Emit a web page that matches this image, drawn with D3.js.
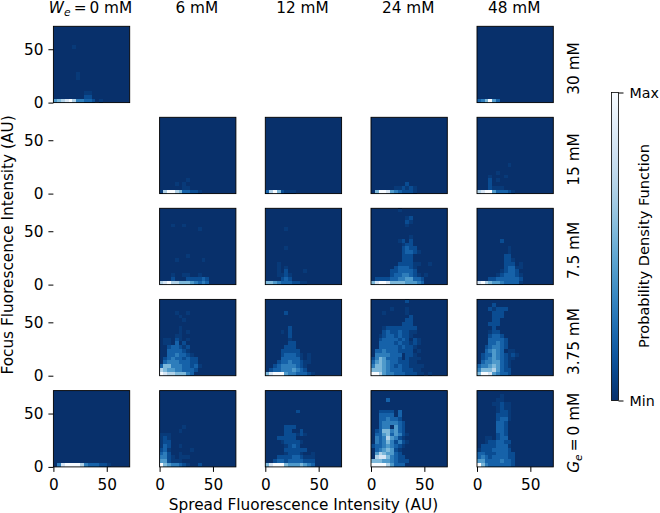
<!DOCTYPE html>
<html><head><meta charset="utf-8">
<script src="https://cdn.jsdelivr.net/npm/d3@7"></script>
<style>html,body{margin:0;padding:0;background:#fff}svg{display:block}text{font-family:"DejaVu Sans";fill:#000}</style>
</head><body><svg id="c" width="660" height="513"></svg>
<script>
// Column / row headings
const colLabels = [["We","0 mM"],"6 mM","12 mM","24 mM","48 mM"];
const rowLabels = ["30 mM","15 mM","7.5 mM","3.75 mM",["Ge","0 mM"]];
const tickValues = [0,50];
const cbarTicks = ["Min","Max"];
// Cell levels 0..9, listed from the y=0 row upward, each char is one x bin
const g30_we0 = ["5678974433201","0000000022","0000000011","","","","0000001","0000001","","","","","","","000001"];
const g30_we48 = ["346953"];
const g15_we6 = ["17997633221","00000011","0000101","00000001"];
const g15_we12 = ["37962111"];
const g15_we24 = ["069985432221","000000112121","0000000002"];
const g15_we48 = ["7899533321","0002111","0002","000201","00010001","000001","","000000001"];
const g75_we6 = ["7897766654343","0002000222232","00010011001","","","","000010000001","00000001","","","","","","","00000000001","0001001"];
const g75_we12 = ["66543332211","0000232","0001121","00010200001","000101","0001","","","","000001","","","","","000001"];
const g75_we24 = ["68998666655543","02222334455332","000002334432101","000002233332","000000233321","0000000222211001","00000000222","00000000222","0000000023321","000000002322","00000000122","00000001202","00000000001","","","0000000001","00000000021","00000000012","","00000001"];
const g75_we48 = ["897655433331","000223333332","000001233321","00000012332","000000023311","000000022201","0000000221","000000022","000000001","000000001","","0000002"];
const g375_we6 = ["987766643","7655443332","36644433231","0344433322","0234332322","003343321","00333321","00233212","0110302","01102101","000011","00000101","000001","","0000001","000001","00001001"];
const g375_we12 = ["6899954433321","02334445432","00234444321","000233433211","000033333101","000023332101","000022222","00000222","00000022","0000001","0000002","0000102","0000002","","","","000002"];
const g375_we24 = ["9975443332221101","6665433322211","46654323221111","356543322211","2465333202111","044443330221","0334333222201","003333323221","0033332322121","0023333232021","00123323221","000232232211","000122222222","00000000222","00000000022","00000000002","0001000001","0000010001","","0000000002"];
const g375_we48 = ["699854332","466675322","344565321","034455321","0234543211","02335432121","0034543011","00234432","00033432","00033332","0002332","000122","00002","000222","000022","0000222","0000222","00021222","00002"];
const g0_we0 = ["048999974333221"];
const g0_we6 = ["96544321002","552111","44210111","342001","231000001","132001","122","121","111","000001","0000001"];
const g0_we12 = ["6899965556543","0023323333222","0002222332111","0000012221001","00000222222","000001232","0000122221","00022222","00000222121","0000022002","00000222","","","","000000002"];
const g0_we24 = ["999975333","6665543222","078864322","05765532","03456521","233454321","0434642421","043475421","0335635421","023664532","003440532","003444432","00334332","00333303","00222203","","","00003"];
const g0_we48 = ["9643333332","5533334332","3432333322","3322233322","122233332","022223331","001223322","00110233","00000232","00000332","00000332","00000332","000002331","000002221","000001221","000001211","000011211","0000011","0000001"];

// grid: row index -> column index -> data (null = empty slot)
const grid = [
  [g30_we0,null,null,null,g30_we48],
  [null,g15_we6,g15_we12,g15_we24,g15_we48],
  [null,g75_we6,g75_we12,g75_we24,g75_we48],
  [null,g375_we6,g375_we12,g375_we24,g375_we48],
  [g0_we0,g0_we6,g0_we12,g0_we24,g0_we48]
];

const FONT = 15.3, SIZE = 76.3, BINS = 20, MAXV = 71.5;
const colX = [53.4,159.6,265.3,371,477];
const rowY = [26.3,117.3,208.3,299.4,390.6];
const svg = d3.select("#c");
const level = d3.scalePow().exponent(1.5).domain([0,9]).range([1,0]);
const color = v => d3.interpolateBlues(level(v));
const x = d3.scaleLinear().domain([0,MAXV]).range([0,SIZE]);
const y = d3.scaleLinear().domain([0,MAXV]).range([SIZE,0]);
const binW = MAXV/BINS;

function label(sel, spec){
  if(Array.isArray(spec)){
    sel.append("tspan").attr("font-style","italic").text(spec[0][0]);
    sel.append("tspan").attr("font-style","italic").attr("font-size",FONT*0.7).attr("dy",FONT*0.2).text(spec[0][1]);
    sel.append("tspan").attr("dy",-FONT*0.2).text("\u2009=\u2009"+spec[1]);
  } else sel.text(spec);
}

grid.forEach((cols,ri)=>{
  cols.forEach((rows,ci)=>{
    const g = svg.append("g").attr("transform",`translate(${colX[ci]},${rowY[ri]})`);
    if(rows){
      g.append("rect").attr("width",SIZE).attr("height",SIZE).attr("fill",color(0));
      const cells = [];
      rows.forEach((s,r)=>[...s].forEach((ch,c)=>{ if(+ch>0) cells.push({r,c,v:+ch}); }));
      g.selectAll("rect.cell").data(cells).join("rect").attr("class","cell")
        .attr("x",d=>x(d.c*binW)).attr("y",d=>y((d.r+1)*binW))
        .attr("width",x(binW)).attr("height",SIZE-y(binW))
        .attr("fill",d=>color(d.v)).attr("shape-rendering","crispEdges");
      g.append("rect").attr("width",SIZE).attr("height",SIZE).attr("fill","none").attr("stroke","#000").attr("stroke-width",0.9);
    }
    if(ci===0){
      const ax = g.append("g").call(d3.axisLeft(y).tickValues(tickValues).tickSize(5).tickPadding(5).tickFormat(d3.format("d")));
      ax.select(".domain").remove();
      ax.selectAll("text").attr("font-size",FONT).attr("font-family","DejaVu Sans");
    }
    if(ri===grid.length-1){
      const ax = g.append("g").attr("transform",`translate(0,${SIZE})`).call(d3.axisBottom(x).tickValues(tickValues).tickSize(5).tickPadding(7).tickFormat(d3.format("d")));
      ax.select(".domain").remove();
      ax.selectAll("text").attr("font-size",FONT).attr("font-family","DejaVu Sans");
    }
  });
});

colLabels.forEach((l,i)=>{
  svg.append("text").attr("x",colX[i]+SIZE/2-1).attr("y",13).attr("text-anchor","middle").attr("font-size",FONT).call(label,l);
});
rowLabels.forEach((l,i)=>{
  svg.append("text").attr("transform",`translate(579,${rowY[i]+SIZE/2+4}) rotate(-90)`).attr("text-anchor","middle").attr("font-size",FONT).call(label,l);
});
svg.append("text").attr("x",303.5).attr("y",509.5).attr("text-anchor","middle").attr("font-size",FONT).text("Spread Fluorescence Intensity (AU)");
svg.append("text").attr("transform","translate(13,245) rotate(-90)").attr("text-anchor","middle").attr("font-size",FONT).text("Focus Fluorescence Intensity (AU)");

// Colour bar
const defs = svg.append("defs");
const grad = defs.append("linearGradient").attr("id","cb").attr("x1",0).attr("x2",0).attr("y1",1).attr("y2",0);
d3.range(0,1.0001,0.05).forEach(t=>grad.append("stop").attr("offset",t).attr("stop-color",d3.interpolateBlues(1-t)));
const cbY = d3.scalePoint().domain(cbarTicks).range([400.5,92.5]);
const cb = svg.append("g").attr("transform","translate(611.5,0)");
cb.append("rect").attr("y",92.5).attr("width",7).attr("height",308).attr("fill","url(#cb)").attr("stroke","#000").attr("stroke-width",0.8);
const cax = cb.append("g").attr("transform","translate(7,0)").call(d3.axisRight(cbY).tickSize(5).tickPadding(6));
cax.select(".domain").remove();
cax.selectAll("text").attr("font-size",14.2).attr("font-family","DejaVu Sans");
svg.append("text").attr("transform","translate(649,246) rotate(-90)").attr("text-anchor","middle").attr("font-size",14.6).text("Probability Density Function");
</script></body></html>
